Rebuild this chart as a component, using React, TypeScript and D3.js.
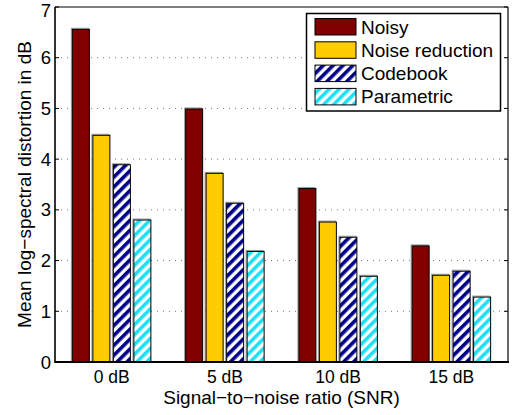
import React from "react";
import * as d3 from "d3";

const categories = ["0 dB", "5 dB", "10 dB", "15 dB"];
const seriesNames = ["Noisy", "Noise reduction", "Codebook", "Parametric"];
const noisy = [6.56, 4.99, 3.42, 2.29];
const noiseReduction = [4.47, 3.72, 2.76, 1.71];
const codebook = [3.89, 3.13, 2.46, 1.79];
const parametric = [2.8, 2.18, 1.69, 1.28];
const yTicks = [0, 1, 2, 3, 4, 5, 6, 7];

const seriesValues = [noisy, noiseReduction, codebook, parametric];
const fills = ["#800000", "#ffcc00", "url(#hatchNavy)", "url(#hatchCyan)"];

const W = 517;
const H = 415;
const m = { left: 55, right: 9, top: 7, bottom: 53 };
const FONT = "'Liberation Sans', Arial, Helvetica, sans-serif";

export default function App() {
  const x0 = d3
    .scaleBand<string>()
    .domain(categories)
    .range([m.left, W - m.right])
    .paddingInner(0.276)
    .paddingOuter(0.138);
  const x1 = d3
    .scaleBand<string>()
    .domain(seriesNames)
    .range([0, x0.bandwidth()])
    .paddingInner(0.17)
    .paddingOuter(0.085);
  const y = d3.scaleLinear().domain([0, 7]).range([H - m.bottom, m.top]);

  const left = m.left;
  const right = W - m.right;
  const top = m.top;
  const bottom = H - m.bottom;

  const legX = 306.5;
  const legY = 13.5;
  const legRow = 23.3;

  return (
    <svg
      width={W}
      height={H}
      style={{ position: "absolute", left: 0, top: 0, background: "#fff" }}
      fontFamily={FONT}
    >
      <defs>
        <pattern id="hatchNavy" patternUnits="userSpaceOnUse" width="7" height="7" patternTransform="rotate(45)">
          <rect width="7" height="7" fill="#fff" />
          <rect width="3.6" height="7" fill="#00008b" />
        </pattern>
        <pattern id="hatchCyan" patternUnits="userSpaceOnUse" width="7" height="7" patternTransform="rotate(45)">
          <rect width="7" height="7" fill="#fff" />
          <rect width="3.6" height="7" fill="#1ee0f5" />
        </pattern>
      </defs>
      <rect x={0} y={0} width={W} height={H} fill="#fff" />
      {/* grid */}
      {yTicks
        .filter((t) => t > 0 && t < 7)
        .map((t) => (
          <line
            key={t}
            x1={left}
            x2={right}
            y1={y(t)}
            y2={y(t)}
            stroke="#777"
            strokeWidth={1}
            strokeDasharray="1,5"
          />
        ))}
      {/* bars */}
      {categories.map((c, ci) => (
        <g key={c} transform={`translate(${x0(c)},0)`}>
          {seriesNames.map((s, si) => {
            const v = seriesValues[si][ci];
            const bx = x1(s)!;
            const by = y(v);
            const bw = x1.bandwidth();
            const bh = bottom - by;
            return (
              <g key={s}>
                <rect x={bx - 1} y={by - 1} width={bw} height={bh} fill="none" stroke="#999" strokeWidth={1} />
                <rect x={bx} y={by} width={bw} height={bh} fill={fills[si]} stroke="#000" strokeWidth={1} />
              </g>
            );
          })}
        </g>
      ))}
      {/* frame */}
      <line x1={left} x2={right} y1={top} y2={top} stroke="#000" strokeWidth={1.2} />
      <line x1={right} x2={right} y1={top} y2={bottom} stroke="#000" strokeWidth={1.2} />
      <line x1={left} x2={left} y1={top} y2={bottom + 1} stroke="#000" strokeWidth={1.6} />
      <line x1={left} x2={right + 1} y1={bottom} y2={bottom} stroke="#000" strokeWidth={2.2} />
      {/* y ticks */}
      {yTicks.map((t) => (
        <g key={t}>
          <line x1={left} x2={left + 4} y1={y(t)} y2={y(t)} stroke="#000" />
          <line x1={right - 4} x2={right} y1={y(t)} y2={y(t)} stroke="#000" />
          <text x={51} y={Math.max(y(t) + 6.5, 16.8)} textAnchor="end" fontSize={18.5} fill="#000">
            {t}
          </text>
        </g>
      ))}
      {/* x tick labels */}
      {categories.map((c) => (
        <text
          key={c}
          x={x0(c)! + x0.bandwidth() / 2}
          y={383}
          textAnchor="middle"
          fontSize={17.5}
          fill="#000"
        >
          {c}
        </text>
      ))}
      <text x={(left + right) / 2} y={404} textAnchor="middle" fontSize={19} fill="#000">
        Signal−to−noise ratio (SNR)
      </text>
      <text
        transform={`translate(31,${(top + bottom) / 2}) rotate(-90)`}
        textAnchor="middle"
        fontSize={19}
        fill="#000"
      >
        Mean log−spectral distortion in dB
      </text>
      {/* legend */}
      <rect x={legX} y={legY} width={194} height={97.5} fill="#fff" stroke="#000" strokeWidth={1.5} />
      {seriesNames.map((s, si) => (
        <g key={s}>
          <rect
            x={315}
            y={legY + 5 + si * legRow}
            width={41}
            height={16.5}
            fill={fills[si]}
            stroke="#000"
            strokeWidth={1}
          />
          <text x={361} y={legY + 5 + si * legRow + 15} fontSize={19} fill="#000">
            {s}
          </text>
        </g>
      ))}
    </svg>
  );
}
